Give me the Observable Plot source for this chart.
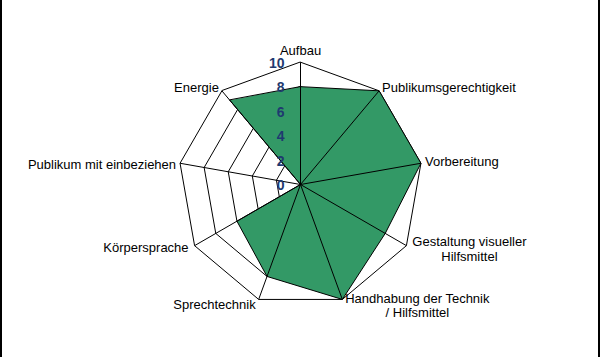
<!DOCTYPE html>
<html>
<head>
<meta charset="utf-8">
<script src="https://cdn.jsdelivr.net/npm/d3@7"></script>
<script src="https://cdn.jsdelivr.net/npm/@observablehq/plot@0.6"></script>
<style>
  html, body { margin: 0; padding: 0; background: #fff; }
  #wrap { position: relative; width: 600px; height: 357px; overflow: hidden; }
  #wrap::after { content: ""; position: absolute; left: 0; top: 0; width: 596px; height: 357px;
    border-left: 2px solid #000; border-right: 2px solid #000; pointer-events: none; }
</style>
</head>
<body>
<div id="wrap"></div>
<script>
// ---- data ----
const axes = [
  "Aufbau",
  "Publikumsgerechtigkeit",
  "Vorbereitung",
  "Gestaltung visueller\nHilfsmittel",
  "Handhabung der Technik\n/ Hilfsmittel",
  "Sprechtechnik",
  "Körpersprache",
  "Publikum mit einbeziehen",
  "Energie"
];
const values = [8, 10, 10, 8, 10, 8, 6, 0, 9];
const ticks = [0, 2, 4, 6, 8, 10];

// ---- layout (label placement relative to outer vertex) ----
const labelLayout = [
  {anchor: "middle", dx: 0,  dy: -12},
  {anchor: "start",  dx: 3,  dy: -3},
  {anchor: "start",  dx: 4,  dy: -2},
  {anchor: "middle", dx: 63, dy: 3},
  {anchor: "middle", dx: 75, dy: 6},
  {anchor: "end",    dx: -3, dy: 5},
  {anchor: "end",    dx: -6, dy: 2},
  {anchor: "end",    dx: -4, dy: 1},
  {anchor: "end",    dx: -3, dy: -3}
];

const W = 600, H = 357, cx = 300, cy = 184, px = 12.23; // px per unit
const maxV = d3.max(ticks);
const n = axes.length;
const ang = i => (i * 2 * Math.PI) / n;
const X = (v, i) => v * Math.sin(ang(i));
const Y = (v, i) => v * Math.cos(ang(i));

const rings = ticks.filter(t => t > 0).flatMap(t => axes.map((a, i) => ({t, x: X(t, i), y: Y(t, i)})));
const poly = values.map((v, i) => ({x: X(v, i), y: Y(v, i)}));
const spokes = axes.map((a, i) => ({x: X(maxV, i), y: Y(maxV, i)}));
const labels = axes.map((a, i) => ({text: a, x: X(maxV, i), y: Y(maxV, i), ...labelLayout[i]}));

const font = "'Liberation Sans', Arial, sans-serif";

const chart = Plot.plot({
  width: W, height: H,
  margin: 0,
  style: {fontFamily: font, background: "#fff", overflow: "visible"},
  x: {domain: [-cx / px, (W - cx) / px], axis: null},
  y: {domain: [-(H - cy) / px, cy / px], axis: null},
  marks: [
    Plot.line(rings, {x: "x", y: "y", z: "t", curve: "linear-closed", stroke: "#000", strokeWidth: 1}),
    Plot.line(poly, {x: "x", y: "y", curve: "linear-closed", fill: "#339966", stroke: "#000", strokeWidth: 1}),
    Plot.link(spokes, {x1: 0, y1: 0, x2: "x", y2: "y", stroke: "#000", strokeWidth: 1}),
    ...labelLayout.map((L, i) => Plot.text([labels[i]], {
      x: "x", y: "y", text: "text", textAnchor: L.anchor, dx: L.dx, dy: L.dy,
      lineAnchor: "middle", lineHeight: 1.12, fontSize: 13, fill: "#000"
    })),
    Plot.text(ticks, {x: 0, y: d => d, text: d => String(d), textAnchor: "end", dx: -16, dy: 1,
      fill: "#1F3A70", fontWeight: "bold", fontSize: 14})
  ]
});
document.getElementById("wrap").appendChild(chart);
</script>
</body>
</html>
